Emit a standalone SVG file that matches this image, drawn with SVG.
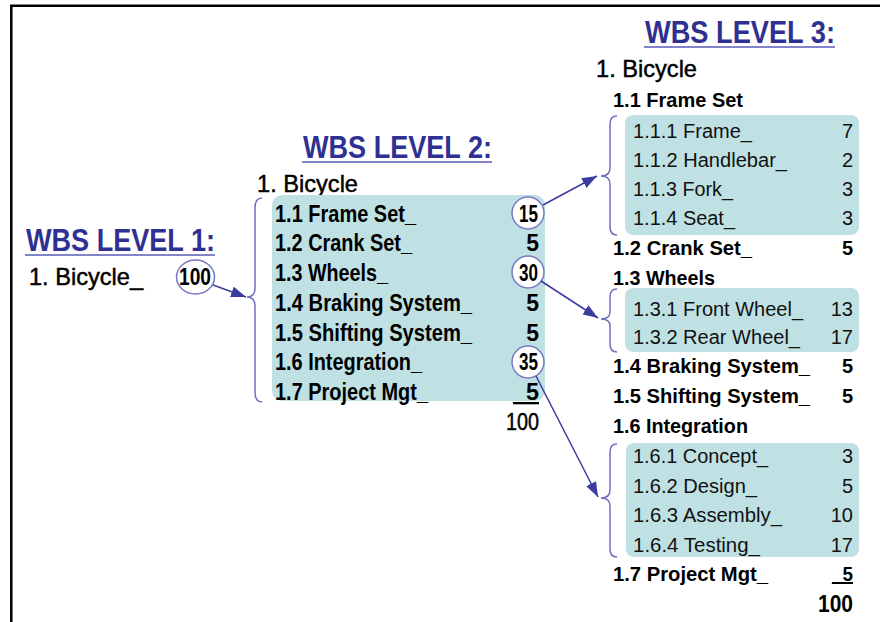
<svg xmlns="http://www.w3.org/2000/svg" width="880" height="622" viewBox="0 0 880 622">
<defs>
<style>
text{font-family:"Liberation Sans",Arial,sans-serif;fill:#000}
.title{font-size:32px;font-weight:bold;fill:#2e3192}
.uline{stroke:#5a5ab4;stroke-width:1.6}
.bike{font-size:24px;stroke:#000;stroke-width:0.45}
.l2{font-size:23px;font-weight:bold}
.l3h{font-size:20px;font-weight:bold}
.l3{font-size:20px;fill:#111}
.num{text-anchor:end}
.box{fill:#bfe1e4}
.circ{fill:#fff;stroke:#7878c4;stroke-width:1.5}
.brace{fill:none;stroke:#6f6fbf;stroke-width:1.5}
.arrow{fill:none;stroke:#3b3ba0;stroke-width:1.5;marker-end:url(#ah)}
</style>
<marker id="ah" markerUnits="userSpaceOnUse" markerWidth="15" markerHeight="11" refX="15" refY="5.5" orient="auto">
<path d="M0,0 L15,5.5 L0,11 z" fill="#3b3ba0"/>
</marker>
</defs>
<rect width="880" height="622" fill="#fff"/>
<path d="M11.3,622 L11.3,5.8 L880,5.8" fill="none" stroke="#000" stroke-width="2.5"/>

<g id="level1">
<text class="title" x="26" y="251" textLength="189" lengthAdjust="spacingAndGlyphs">WBS LEVEL 1:</text>
<line class="uline" x1="25" y1="255" x2="215" y2="255"/>
<text class="bike" x="29" y="285" textLength="114" lengthAdjust="spacingAndGlyphs">1. Bicycle_</text>
<ellipse class="circ" cx="195.5" cy="277" rx="19" ry="17"/>
<text class="l2" x="179" y="285" textLength="32" lengthAdjust="spacingAndGlyphs">100</text>
</g>

<g id="level2">
<text class="title" x="303" y="158" textLength="189" lengthAdjust="spacingAndGlyphs">WBS LEVEL 2:</text>
<line class="uline" x1="302" y1="162" x2="492" y2="162"/>
<text class="bike" x="257" y="192" textLength="101" lengthAdjust="spacingAndGlyphs">1. Bicycle</text>
<rect class="box" x="272" y="195" width="273" height="206" rx="10"/>
<circle class="circ" cx="528" cy="213" r="16"/>
<circle class="circ" cx="528" cy="272" r="16"/>
<circle class="circ" cx="528" cy="362" r="16"/>
<text class="l2" x="275" y="221.5" textLength="141" lengthAdjust="spacingAndGlyphs">1.1 Frame Set_</text>
<text class="l2" x="275" y="251.3" textLength="137" lengthAdjust="spacingAndGlyphs">1.2 Crank Set_</text>
<text class="l2" x="275" y="281" textLength="113" lengthAdjust="spacingAndGlyphs">1.3 Wheels_</text>
<text class="l2" x="275" y="310.7" textLength="197" lengthAdjust="spacingAndGlyphs">1.4 Braking System_</text>
<text class="l2" x="275" y="340.5" textLength="197" lengthAdjust="spacingAndGlyphs">1.5 Shifting System_</text>
<text class="l2" x="275" y="370.2" textLength="147" lengthAdjust="spacingAndGlyphs">1.6 Integration_</text>
<text class="l2" x="275" y="400" textLength="153" lengthAdjust="spacingAndGlyphs">1.7 Project Mgt_</text>
<text class="l2" x="519" y="221.5" textLength="19" lengthAdjust="spacingAndGlyphs">15</text>
<text class="l2 num" x="539" y="251.3">5</text>
<text class="l2" x="519" y="281" textLength="19" lengthAdjust="spacingAndGlyphs">30</text>
<text class="l2 num" x="539" y="310.7">5</text>
<text class="l2 num" x="539" y="340.5">5</text>
<text class="l2" x="519" y="370.2" textLength="19" lengthAdjust="spacingAndGlyphs">35</text>
<text class="l2" x="513" y="400" textLength="26" lengthAdjust="spacingAndGlyphs" text-decoration="underline">_5</text>
<text class="bike" x="506" y="430" textLength="33" lengthAdjust="spacingAndGlyphs">100</text>
</g>

<g id="level3">
<text class="title" x="645" y="43" textLength="190" lengthAdjust="spacingAndGlyphs">WBS LEVEL 3:</text>
<line class="uline" x1="644" y1="47" x2="835" y2="47"/>
<text class="bike" x="596" y="77" textLength="101" lengthAdjust="spacingAndGlyphs">1. Bicycle</text>
<text class="l3h" x="613" y="107" textLength="130" lengthAdjust="spacingAndGlyphs">1.1 Frame Set</text>
<g id="frameset">
<rect class="box" x="625" y="115" width="234" height="120" rx="8"/>
<text class="l3" x="633" y="138" textLength="119" lengthAdjust="spacingAndGlyphs">1.1.1 Frame_</text>
<text class="l3" x="633" y="167" textLength="154" lengthAdjust="spacingAndGlyphs">1.1.2 Handlebar_</text>
<text class="l3" x="633" y="196" textLength="100" lengthAdjust="spacingAndGlyphs">1.1.3 Fork_</text>
<text class="l3" x="633" y="225" textLength="102" lengthAdjust="spacingAndGlyphs">1.1.4 Seat_</text>
<text class="l3 num" x="853" y="138">7</text>
<text class="l3 num" x="853" y="167">2</text>
<text class="l3 num" x="853" y="196">3</text>
<text class="l3 num" x="853" y="225">3</text>
</g>
<text class="l3h" x="613" y="255" textLength="139" lengthAdjust="spacingAndGlyphs">1.2 Crank Set_</text>
<text class="l3h num" x="853" y="255">5</text>
<text class="l3h" x="613" y="285" textLength="102" lengthAdjust="spacingAndGlyphs">1.3 Wheels</text>
<g id="wheels">
<rect class="box" x="625" y="288" width="234" height="64" rx="8"/>
<text class="l3" x="633" y="316" textLength="170" lengthAdjust="spacingAndGlyphs">1.3.1 Front Wheel_</text>
<text class="l3" x="633" y="344" textLength="167" lengthAdjust="spacingAndGlyphs">1.3.2 Rear Wheel_</text>
<text class="l3 num" x="853" y="316">13</text>
<text class="l3 num" x="853" y="344">17</text>
</g>
<text class="l3h" x="613" y="373" textLength="197" lengthAdjust="spacingAndGlyphs">1.4 Braking System_</text>
<text class="l3h num" x="853" y="373">5</text>
<text class="l3h" x="613" y="403" textLength="197" lengthAdjust="spacingAndGlyphs">1.5 Shifting System_</text>
<text class="l3h num" x="853" y="403">5</text>
<text class="l3h" x="613" y="433" textLength="135" lengthAdjust="spacingAndGlyphs">1.6 Integration</text>
<g id="integration">
<rect class="box" x="626" y="443" width="233" height="114" rx="8"/>
<text class="l3" x="633" y="463" textLength="135" lengthAdjust="spacingAndGlyphs">1.6.1 Concept_</text>
<text class="l3" x="633" y="493" textLength="124" lengthAdjust="spacingAndGlyphs">1.6.2 Design_</text>
<text class="l3" x="633" y="522" textLength="149" lengthAdjust="spacingAndGlyphs">1.6.3 Assembly_</text>
<text class="l3" x="633" y="552" textLength="127" lengthAdjust="spacingAndGlyphs">1.6.4 Testing_</text>
<text class="l3 num" x="853" y="463">3</text>
<text class="l3 num" x="853" y="493">5</text>
<text class="l3 num" x="853" y="522">10</text>
<text class="l3 num" x="853" y="552">17</text>
</g>
<text class="l3h" x="613" y="581" textLength="155" lengthAdjust="spacingAndGlyphs">1.7 Project Mgt_</text>
<text class="l3h" x="832" y="581" textLength="21" lengthAdjust="spacingAndGlyphs" text-decoration="underline">_5</text>
<text class="l2" x="818" y="612" textLength="35" lengthAdjust="spacingAndGlyphs">100</text>
</g>

<g id="connectors">
<path class="brace" d="M262,198 Q255,198 255,208 L255,288 Q255,297 247,297 Q255,297 255,306 L255,392 Q255,402 262,402"/>
<path class="brace" d="M617,116 Q610,116 610,124 L610,168 Q610,176 601,176 Q610,176 610,184 L610,227 Q610,235 617,235"/>
<path class="brace" d="M617,289 Q610,289 610,297 L610,312 Q610,319 601,319 Q610,319 610,326 L610,344 Q610,352 617,352"/>
<path class="brace" d="M617,444 Q610,444 610,452 L610,490 Q610,498 601,498 Q610,498 610,506 L610,549 Q610,557 617,557"/>
<path class="arrow" d="M213,285 L246,297"/>
<path class="arrow" d="M543,205 L597,176"/>
<path class="arrow" d="M541,281 L598,318"/>
<path class="arrow" d="M536,376 L598,497"/>
</g>
</svg>
